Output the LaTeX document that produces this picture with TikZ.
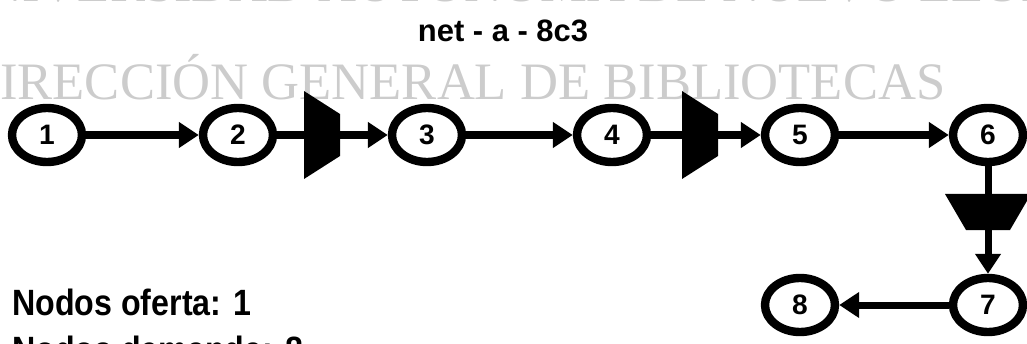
\documentclass[tikz,border=0pt]{standalone}
\usepackage{fontspec}
\setmainfont{Liberation Sans}
\newfontfamily\marcafont{Liberation Serif}
\newfontfamily\etiqfont[FakeStretch=0.88]{Liberation Sans}
\usetikzlibrary{shapes.geometric,arrows.meta}

\tikzset{
  nodo/.style={ellipse, draw, line width=0.21cm, minimum width=1.75cm,
    minimum height=1.35cm, inner sep=0pt, font=\fontsize{20}{24}\selectfont\bfseries},
  linea/.style={line width=0.175cm},
  arco/.style={linea, -{Triangle[length=0.5cm,width=0.62cm]}},
  marca/.style={text=black!20, inner sep=0pt, font=\marcafont\fontsize{37.4}{40}\selectfont},
}

\begin{document}
\begin{tikzpicture}[x=0.025cm, y=0.025cm]
    \clip (0,0) rectangle (1027,343);
    % ── marca de agua ────────────────────────────────────
    \node[marca, anchor=base] (marcaA) at (503,341) {UNIVERSIDAD AUTÓNOMA DE NUEVO LEÓN};
    \node[marca, anchor=base west] (marcaB) at (-38,243) {DIRECCIÓN GENERAL DE BIBLIOTECAS};
    % ── título ───────────────────────────────────────────
    \node[inner sep=0pt, anchor=base, font=\fontsize{22}{26}\selectfont\bfseries] (titulo) at (503,301) {net - a - 8c3};
    % ── nodos de la red ──────────────────────────────────
    \foreach \n/\x/\y in {1/47/208, 2/238/208, 3/427/208, 4/612/208,
                          5/800/208, 6/988/208, 7/988/38, 8/800/38} {
        \node[nodo] (n\n) at (\x,\y) {\n};
    }
    % válvulas
    \coordinate (v1) at (322,208);
    \coordinate (v2) at (700,208);
    \coordinate (v3) at (988,131);
    % ── arcos ────────────────────────────────────────────
    \draw[arco] (n1) -- (n2);
    \draw[linea] (n2) -- (v1);
    \draw[arco] (v1) -- (n3);
    \draw[arco] (n3) -- (n4);
    \draw[linea] (n4) -- (v2);
    \draw[arco] (v2) -- (n5);
    \draw[arco] (n5) -- (n6);
    \draw[linea] (n6) -- (v3);
    \draw[arco] (v3) -- (n7);
    \draw[arco] (n7) -- (n8);
    % trapecios sobre los arcos
    \foreach \v in {v1, v2} {
        \fill[shift={(\v)}] (-18,44) -- (18,21) -- (18,-21) -- (-18,-44) -- cycle;
    }
    \fill[shift={(v3)}] (-43,18) -- (43,18) -- (22,-18) -- (-22,-18) -- cycle;
    % ── leyenda ──────────────────────────────────────────
    \node[inner sep=0pt, anchor=base west, font=\etiqfont\fontsize{26}{30}\selectfont\bfseries] (oferta) at (12,28) {Nodos oferta: 1};
    \node[inner sep=0pt, anchor=base west, font=\etiqfont\fontsize{26}{30}\selectfont\bfseries] (demanda) at (12,-19) {Nodos demanda: 8};
\end{tikzpicture}
\end{document}
